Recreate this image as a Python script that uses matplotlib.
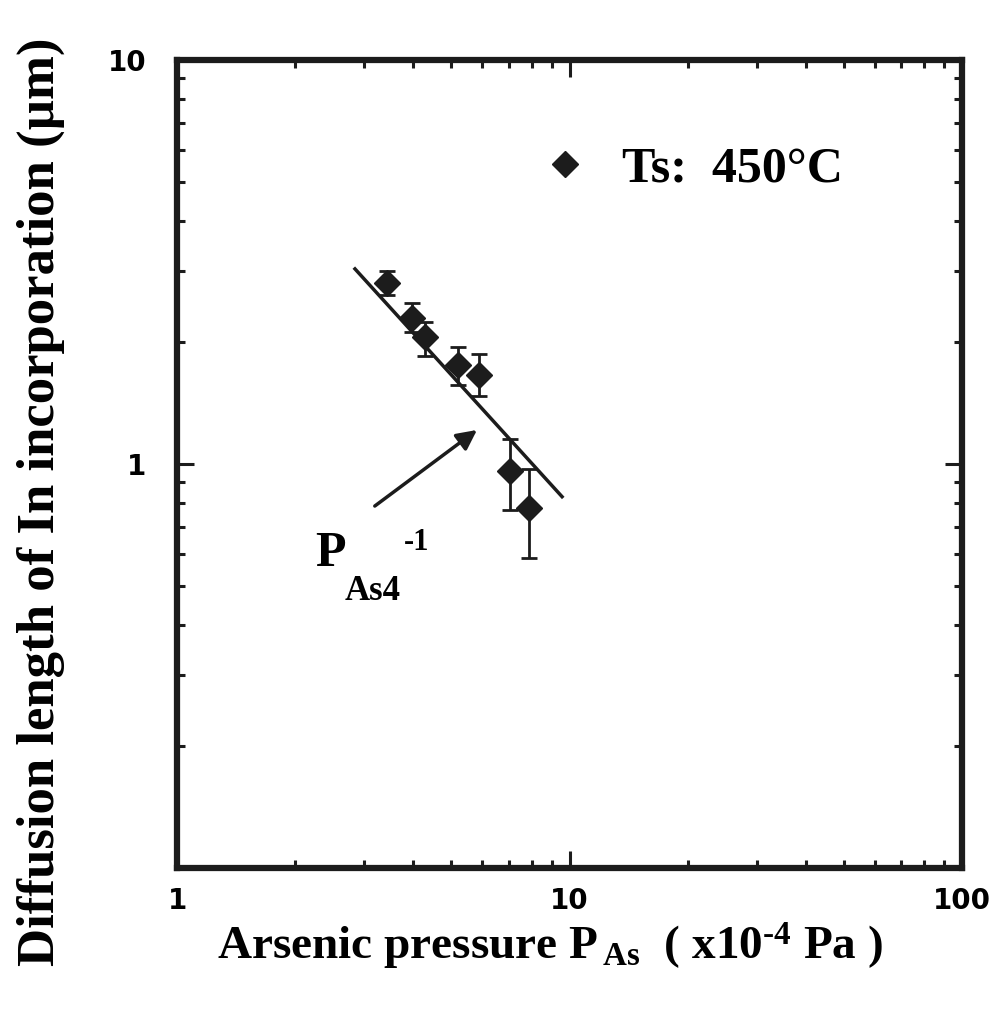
import numpy as np
import matplotlib
matplotlib.use("Agg")
import matplotlib.pyplot as plt
from matplotlib.ticker import FixedLocator, FixedFormatter, LogLocator, NullFormatter

plt.rcParams['mathtext.fontset'] = 'custom'
plt.rcParams['mathtext.rm'] = 'Liberation Serif:bold'
plt.rcParams['mathtext.bf'] = 'Liberation Serif:bold'
plt.rcParams['mathtext.it'] = 'Liberation Serif:bold'

# Datos
p_as = [3.43, 3.97, 4.28, 5.20, 5.88, 7.05, 7.88]
diff_len = [2.81, 2.30, 2.06, 1.76, 1.66, 0.96, 0.78]
err_hi = [3.00, 2.50, 2.25, 1.95, 1.87, 1.15, 0.97]
err_lo = [2.62, 2.12, 1.85, 1.57, 1.47, 0.77, 0.585]

# Recta de ajuste P_As4^-1
fit_x = [2.84, 9.57]
fit_y = [3.04, 0.83]

serif = 'Liberation Serif'
sans = 'DejaVu Sans'
col = '#1c1c1c'

fig = plt.figure(figsize=(9.98, 10.11), dpi=100)
ax = fig.add_axes([0.1774, 0.1414, 0.7866, 0.7993])

yerr = [np.array(diff_len) - np.array(err_lo), np.array(err_hi) - np.array(diff_len)]
ax.errorbar(p_as, diff_len, yerr=yerr, fmt='none', ecolor=col, elinewidth=2,
            capsize=6, capthick=2, zorder=2)
ax.plot(p_as, diff_len, 'D', color=col, markersize=13, label='Ts:  450°C', zorder=3)
ax.plot(fit_x, fit_y, '-', color=col, linewidth=2.5, zorder=2)

ax.set_xscale('log')
ax.set_yscale('log')
ax.set_xlim(1, 100)
ax.set_ylim(0.1, 10)

ax.xaxis.set_major_locator(FixedLocator([1, 10, 100]))
ax.xaxis.set_major_formatter(FixedFormatter(['1', '10', '100']))
ax.yaxis.set_major_locator(FixedLocator([0.1, 1, 10]))
ax.yaxis.set_major_formatter(FixedFormatter(['', '1', '10']))
ax.xaxis.set_minor_locator(LogLocator(base=10, subs=np.arange(2, 10)))
ax.yaxis.set_minor_locator(LogLocator(base=10, subs=np.arange(2, 10)))
ax.xaxis.set_minor_formatter(NullFormatter())
ax.yaxis.set_minor_formatter(NullFormatter())

ax.tick_params(which='both', direction='in', top=True, right=True, color=col)
ax.tick_params(which='major', length=12, width=2.2)
ax.tick_params(which='minor', length=6, width=2.2)
ax.tick_params(axis='x', which='major', pad=14)
ax.tick_params(axis='y', which='major', pad=22)
for lab in ax.get_xticklabels() + ax.get_yticklabels():
    lab.set_fontfamily(sans)
    lab.set_fontweight('bold')
    lab.set_fontsize(20)

for s in ax.spines.values():
    s.set_linewidth(4.5)
    s.set_color(col)

ax.set_xlabel('Arsenic pressure P$_{\\,\\mathrm{As}}$  ( x10$^{\\mathrm{\u2010}\\mathrm{4}}$ Pa )',
              fontfamily=serif, fontweight='bold', fontsize=34)
ax.xaxis.set_label_coords(0.475, -0.065)
ax.set_ylabel('Diffusion length of In incorporation (µm)',
              fontfamily=serif, fontweight='bold', fontsize=38)
ax.yaxis.set_label_coords(-0.143, 0.453)

ax.legend(loc='center left', bbox_to_anchor=(0.405, 0.864), frameon=False,
          numpoints=1, handlelength=1.0, handletextpad=0.65,
          prop={'family': serif, 'weight': 'bold', 'size': 36})

ax.annotate('', xy=(5.81, 1.214), xytext=(3.19, 0.787),
            arrowprops=dict(arrowstyle='-|>', color=col, lw=2.5,
                            mutation_scale=30, shrinkA=0, shrinkB=0))
ax.text(2.25, 0.60, 'P', fontfamily=serif, fontweight='bold', fontsize=36,
        ha='left', va='center')
ax.text(3.78, 0.64, '-1', fontfamily=serif, fontweight='bold', fontsize=22,
        ha='left', va='center')
ax.text(2.67, 0.484, 'As4', fontfamily=serif, fontweight='bold', fontsize=25,
        ha='left', va='center')

fig.savefig('out.png', dpi=100)
